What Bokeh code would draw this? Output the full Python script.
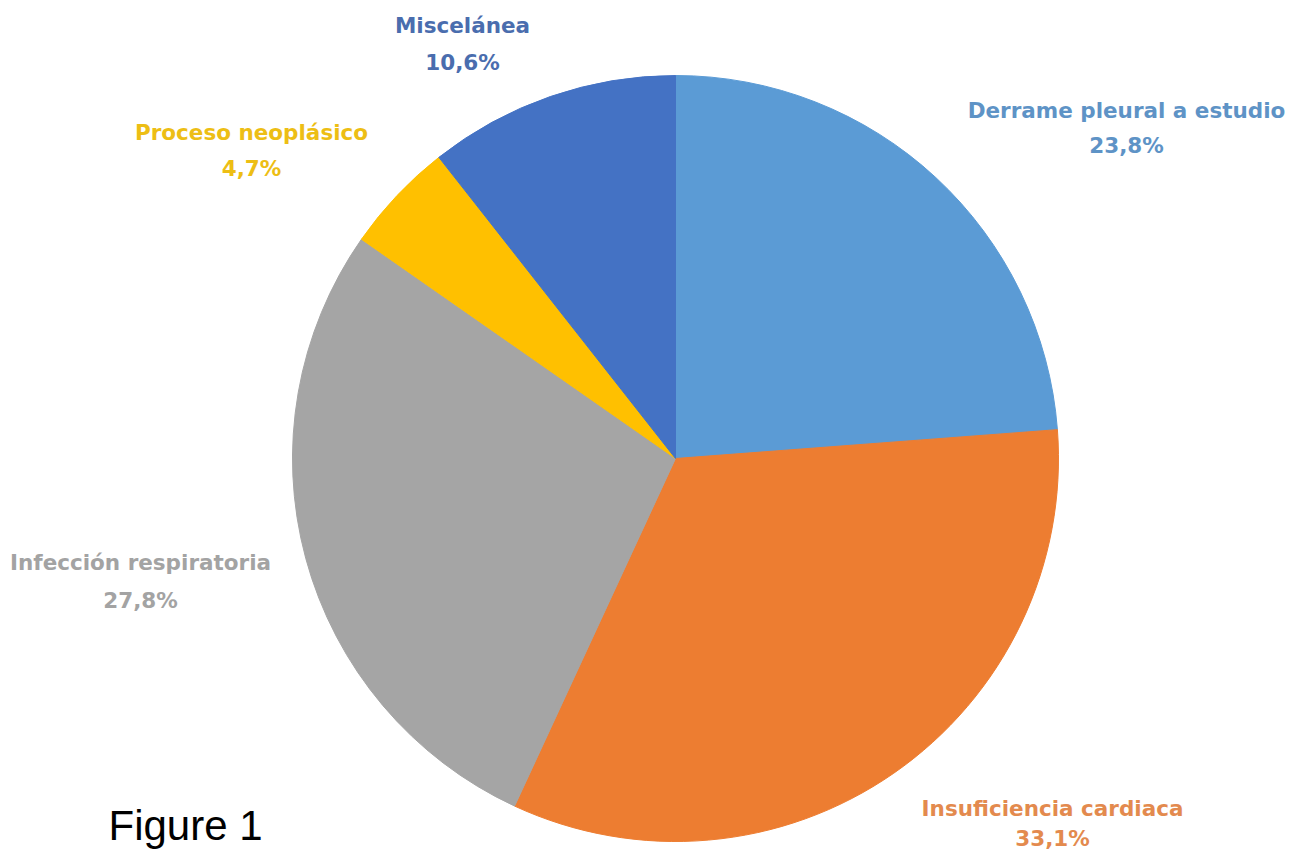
import math
from bokeh.plotting import figure
from bokeh.models import Range1d, ColumnDataSource
from bokeh.core.properties import value
from bokeh.embed import file_html
from bokeh.resources import INLINE

# ---- data ----
categories = ["Derrame pleural a estudio", "Insuficiencia cardiaca",
              "Infección respiratoria", "Proceso neoplásico", "Miscelánea"]
percents = [23.8, 33.1, 27.8, 4.7, 10.6]
pct_labels = ["23,8%", "33,1%", "27,8%", "4,7%", "10,6%"]
slice_colors = ["#5B9BD5", "#ED7D31", "#A5A5A5", "#FFC000", "#4472C4"]
label_colors = ["#5E93C6", "#E38A4E", "#A3A3A3", "#EDBE14", "#4A6DAE"]

# ---- layout (picture pixels) ----
W, H = 1285, 852
def sy(y):  # picture y (from top) -> data y
    return 868 - y

cx, cy, R = 675, sy(458), 383
label_pos = [(1126, 110, 145), (1052, 808, 838), (140, 562, 600),
             (251, 132, 168), (462, 25, 62)]

p = figure(width=W, height=H, output_backend="svg", toolbar_location=None,
           x_range=Range1d(0, W), y_range=Range1d(868 - H, 868),
           min_border=0, outline_line_color=None)
p.axis.visible = False
p.grid.visible = False
p.background_fill_color = "white"
p.border_fill_color = "white"

starts, ends = [], []
cum = 0.0
for v in percents:
    a0 = math.pi / 2 - 2 * math.pi * cum / 100.0
    cum += v
    a1 = math.pi / 2 - 2 * math.pi * cum / 100.0
    starts.append(a0)
    ends.append(a1)

src = ColumnDataSource(dict(start=starts, end=ends, color=slice_colors,
                            x=[cx] * 5, y=[cy] * 5))
p.wedge(x="x", y="y", radius=R, start_angle="start", end_angle="end",
        direction="clock", fill_color="color", line_color="color",
        line_width=1, source=src)

lsrc = ColumnDataSource(dict(
    x=[lp[0] for lp in label_pos],
    y1=[sy(lp[1]) for lp in label_pos],
    y2=[sy(lp[2]) for lp in label_pos],
    name=categories, pct=pct_labels, color=label_colors))
p.text(x="x", y="y1", text="name", text_color="color", source=lsrc,
       text_align="center", text_baseline="middle",
       text_font=value("DejaVu Sans"), text_font_style="bold",
       text_font_size="21.5px")
p.text(x="x", y="y2", text="pct", text_color="color", source=lsrc,
       text_align="center", text_baseline="middle",
       text_font=value("DejaVu Sans"), text_font_style="bold",
       text_font_size="21.5px")

p.text(x=[108], y=[sy(848)], text=["Figure 1"], text_color="black",
       text_align="left", text_baseline="bottom",
       text_font=value("Liberation Sans"), text_font_size="42px")

open("out.html", "w").write(file_html(p, INLINE))
